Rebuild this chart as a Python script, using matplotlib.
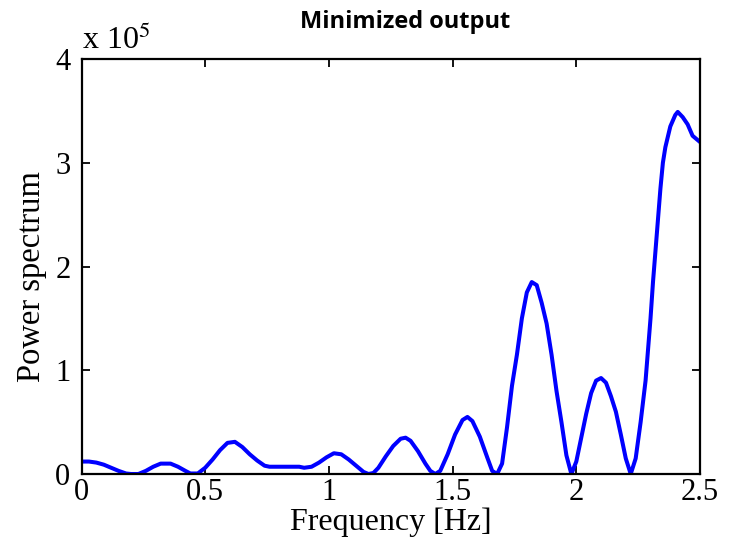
import matplotlib
matplotlib.use("Agg")
import matplotlib.pyplot as plt

# power spectrum, in units of 1e5
freq = [0.00, 0.03, 0.06, 0.09, 0.12, 0.15, 0.18, 0.20, 0.23, 0.26,
        0.29, 0.32, 0.36, 0.39, 0.42, 0.44, 0.47, 0.50, 0.53, 0.56,
        0.59, 0.62, 0.65, 0.68, 0.71, 0.74, 0.76, 0.80, 0.85, 0.88,
        0.90, 0.93, 0.96, 0.99, 1.02, 1.05, 1.08, 1.11, 1.14, 1.16,
        1.18, 1.20, 1.23, 1.26, 1.29, 1.31, 1.33, 1.36, 1.39, 1.41,
        1.43, 1.45, 1.48, 1.51, 1.54, 1.56, 1.58, 1.61, 1.64, 1.66,
        1.68, 1.70, 1.72, 1.74, 1.76, 1.78, 1.80, 1.82, 1.84, 1.86,
        1.88, 1.90, 1.92, 1.94, 1.96, 1.98, 2.00, 2.02, 2.04, 2.06,
        2.08, 2.10, 2.12, 2.14, 2.16, 2.18, 2.20, 2.22, 2.24, 2.26,
        2.28, 2.29, 2.30, 2.31, 2.32, 2.33, 2.34, 2.35, 2.36, 2.38,
        2.40, 2.41, 2.43, 2.45, 2.47, 2.49, 2.50]
power = [0.12, 0.12, 0.11, 0.09, 0.06, 0.03, 0.005, 0.0, 0.0, 0.03,
         0.07, 0.10, 0.10, 0.07, 0.03, 0.005, 0.005, 0.06, 0.14, 0.23,
         0.30, 0.31, 0.26, 0.19, 0.13, 0.08, 0.07, 0.07, 0.07, 0.07,
         0.06, 0.07, 0.11, 0.16, 0.20, 0.19, 0.14, 0.08, 0.02, 0.0,
         0.01, 0.06, 0.17, 0.27, 0.34, 0.35, 0.32, 0.22, 0.10, 0.03,
         0.0, 0.03, 0.19, 0.38, 0.52, 0.55, 0.51, 0.36, 0.16, 0.03,
         0.0, 0.10, 0.45, 0.85, 1.15, 1.50, 1.75, 1.85, 1.82, 1.65,
         1.45, 1.15, 0.80, 0.50, 0.18, 0.0, 0.12, 0.35, 0.58, 0.78,
         0.90, 0.925, 0.88, 0.75, 0.60, 0.38, 0.15, 0.0, 0.15, 0.50,
         0.90, 1.20, 1.50, 1.85, 2.15, 2.45, 2.75, 3.00, 3.15, 3.35,
         3.46, 3.49, 3.44, 3.37, 3.26, 3.22, 3.20]

xticks = [0, 0.5, 1, 1.5, 2, 2.5]
xtick_labels = ["0", "0.5", "1", "1.5", "2", "2.5"]
yticks = [0, 1, 2, 3, 4]

serif = "Liberation Serif"
fs = 22

fig = plt.figure(figsize=(7.3, 5.44), dpi=100)
# axes box: x 81.5..700 px, y 59..474 px
ax = fig.add_axes([81.5 / 730, 1 - 474 / 544, 618.5 / 730, 415 / 544])

ax.plot(freq, power, color="#0000ff", linewidth=2.9)

ax.set_xlim(0, 2.5)
ax.set_ylim(0, 4)
ax.set_xticks(xticks)
ax.set_xticklabels(xtick_labels)
ax.set_yticks(yticks)
ax.tick_params(direction="in", length=6, width=1.3, top=True, right=True,
               labelsize=fs)
ax.tick_params(axis="x", pad=3)
ax.tick_params(axis="y", pad=8)
for lab in ax.get_xticklabels() + ax.get_yticklabels():
    lab.set_fontfamily(serif)
for sp in ax.spines.values():
    sp.set_linewidth(1.6)

ax.set_xlabel("Frequency [Hz]", fontfamily=serif, fontsize=fs + 1, labelpad=0)
ax.set_ylabel("Power spectrum", fontfamily=serif, fontsize=fs + 1.5)
ax.yaxis.set_label_coords(-0.055, 0.477)
ax.set_title("Minimized output", fontfamily="Open Sans", fontweight="bold",
             fontsize=17, pad=22)
ax.title.set_x(0.523)

# MATLAB-style exponent label
ax.text(0.0, 1.024, r"x 10$^{5}$", transform=ax.transAxes, ha="left",
        va="baseline", fontfamily=serif, fontsize=fs + 1,
        math_fontfamily="stix")

fig.savefig("out.png", dpi=100, facecolor="white")
